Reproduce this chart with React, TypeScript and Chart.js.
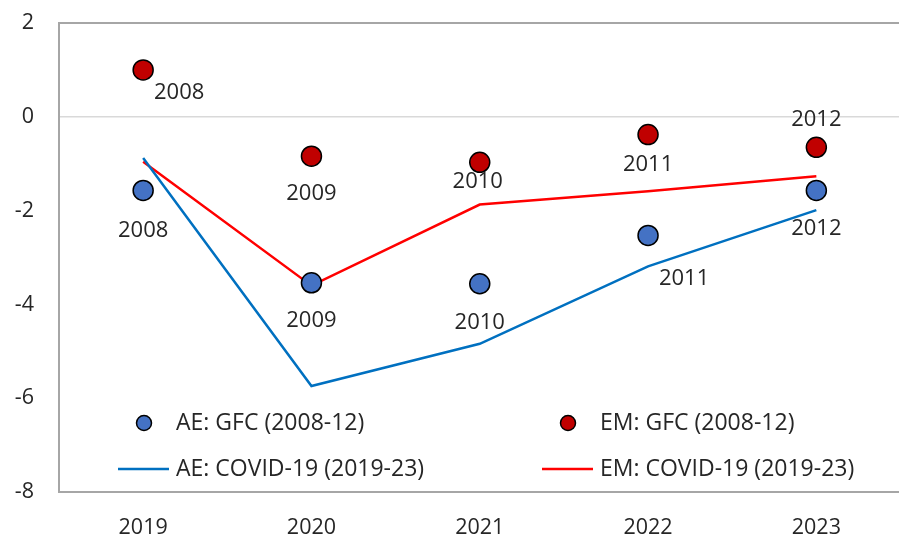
import React, { useEffect, useRef } from "react";
import { Chart, registerables } from "chart.js";

Chart.register(...registerables);

// ---- Data ----
const years = ["2019", "2020", "2021", "2022", "2023"];
const gfcYears = ["2008", "2009", "2010", "2011", "2012"];
const aeGfc = [-1.57, -3.54, -3.56, -2.53, -1.57];
const emGfc = [1.0, -0.84, -0.97, -0.38, -0.65];
const aeCovid = [-0.88, -5.74, -4.84, -3.19, -1.99];
const emCovid = [-0.96, -3.6, -1.87, -1.59, -1.27];
const yMin = -8;
const yMax = 2;
const yStep = 2;
const legendLabels = [
  "AE: GFC (2008-12)",
  "EM: GFC (2008-12)",
  "AE: COVID-19 (2019-23)",
  "EM: COVID-19 (2019-23)",
];

// ---- Styles ----
const FONT = "'Open Sans', 'Noto Sans', sans-serif";
const TICK_SIZE = 21.5;
const LABEL_SIZE = 22;
const LEGEND_SIZE = 23;
const TEXT_COLOR = "#262626";
const AXIS_COLOR = "#a6a6a6";
const AE_DOT = "#4472C4";
const EM_DOT = "#C00000";
const AE_LINE = "#0070C0";
const EM_LINE = "#FF0000";
// label offsets (dx, dy) in px relative to each dot
const aeLabelOffset: [number, number][] = [
  [0, 40],
  [0, 38],
  [0, 39],
  [36, 43],
  [0, 38],
];
const emLabelOffset: [number, number][] = [
  [36, 23],
  [0, 38],
  [-2, 19],
  [0, 30],
  [0, -28],
];

const labelPlugin = {
  id: "gfcLabels",
  afterDatasetsDraw(chart: any) {
    const ctx = chart.ctx;
    ctx.save();
    ctx.font = `${LABEL_SIZE}px ${FONT}`;
    ctx.fillStyle = TEXT_COLOR;
    ctx.textAlign = "center";
    ctx.textBaseline = "middle";
    const sets: [number, [number, number][]][] = [
      [0, aeLabelOffset],
      [1, emLabelOffset],
    ];
    sets.forEach(([idx, offs]) => {
      const meta = chart.getDatasetMeta(idx);
      meta.data.forEach((pt: any, i: number) => {
        ctx.fillText(gfcYears[i], pt.x + offs[i][0], pt.y + offs[i][1]);
      });
    });
    ctx.restore();
  },
};

const legendPlugin = {
  id: "customLegend",
  afterDraw(chart: any) {
    const ctx = chart.ctx;
    const area = chart.chartArea;
    const row1 = area.bottom - 69;
    const row2 = area.bottom - 23;
    const col1 = area.left + 85;
    const col2 = area.left + 509;
    const textGap = 32;
    ctx.save();
    ctx.font = `${LEGEND_SIZE}px ${FONT}`;
    ctx.textAlign = "left";
    ctx.textBaseline = "middle";
    const dot = (x: number, y: number, fill: string) => {
      ctx.beginPath();
      ctx.arc(x, y, 7.5, 0, Math.PI * 2);
      ctx.fillStyle = fill;
      ctx.fill();
      ctx.lineWidth = 1.5;
      ctx.strokeStyle = "#000";
      ctx.stroke();
    };
    const line = (x: number, y: number, color: string) => {
      ctx.beginPath();
      ctx.moveTo(x - 26, y);
      ctx.lineTo(x + 25, y);
      ctx.lineWidth = 2.5;
      ctx.strokeStyle = color;
      ctx.stroke();
    };
    dot(col1, row1, AE_DOT);
    dot(col2, row1, EM_DOT);
    line(col1, row2, AE_LINE);
    line(col2, row2, EM_LINE);
    ctx.fillStyle = TEXT_COLOR;
    ctx.fillText(legendLabels[0], col1 + textGap, row1);
    ctx.fillText(legendLabels[1], col2 + textGap, row1);
    ctx.fillText(legendLabels[2], col1 + textGap, row2);
    ctx.fillText(legendLabels[3], col2 + textGap, row2);
    ctx.restore();
  },
};

export default function App() {
  const ref = useRef<HTMLCanvasElement | null>(null);

  useEffect(() => {
    if (!ref.current) return;
    const chart = new Chart(ref.current, {
      type: "line",
      data: {
        labels: years,
        datasets: [
          {
            label: legendLabels[0],
            data: aeGfc,
            showLine: false,
            pointRadius: 10,
            pointBackgroundColor: AE_DOT,
            pointBorderColor: "#000",
            pointBorderWidth: 1.5,
            borderColor: AE_DOT,
            backgroundColor: AE_DOT,
          },
          {
            label: legendLabels[1],
            data: emGfc,
            showLine: false,
            pointRadius: 10,
            pointBackgroundColor: EM_DOT,
            pointBorderColor: "#000",
            pointBorderWidth: 1.5,
            borderColor: EM_DOT,
            backgroundColor: EM_DOT,
          },
          {
            label: legendLabels[2],
            data: aeCovid,
            borderColor: AE_LINE,
            borderWidth: 2.5,
            pointRadius: 0,
            tension: 0,
            fill: false,
          },
          {
            label: legendLabels[3],
            data: emCovid,
            borderColor: EM_LINE,
            borderWidth: 2.5,
            pointRadius: 0,
            tension: 0,
            fill: false,
          },
        ],
      },
      options: {
        responsive: false,
        maintainAspectRatio: false,
        animation: false,
        layout: { padding: { top: 23, right: 0, bottom: 0, left: 0 } },
        plugins: {
          legend: { display: false },
          tooltip: { enabled: false },
        },
        scales: {
          x: {
            offset: true,
            grid: { display: false, drawTicks: false },
            border: { display: true, color: AXIS_COLOR, width: 2 },
            ticks: {
              color: TEXT_COLOR,
              font: { family: FONT, size: TICK_SIZE },
              padding: 23,
              maxRotation: 0,
            },
            afterFit: (scale: any) => {
              scale.height = 45;
              scale.paddingLeft = 0;
              scale.paddingRight = 0;
            },
          },
          y: {
            min: yMin,
            max: yMax,
            grid: {
              drawTicks: false,
              color: (c: any) =>
                c.tick && c.tick.value === yMax
                  ? AXIS_COLOR
                  : c.tick && c.tick.value === 0
                  ? "#d9d9d9"
                  : "rgba(0,0,0,0)",
              lineWidth: (c: any) =>
                c.tick && c.tick.value === yMax ? 2 : 1.5,
            },
            border: { display: true, color: AXIS_COLOR, width: 2 },
            ticks: {
              stepSize: yStep,
              color: TEXT_COLOR,
              font: { family: FONT, size: TICK_SIZE },
              padding: 25,
            },
            afterFit: (scale: any) => {
              scale.width = 59;
              scale.paddingTop = 0;
              scale.paddingBottom = 0;
            },
          },
        },
      },
      plugins: [labelPlugin, legendPlugin],
    });
    return () => chart.destroy();
  }, []);

  return (
    <div
      style={{
        position: "fixed",
        left: 0,
        top: 0,
        width: 899,
        height: 537,
        overflow: "hidden",
        background: "#fff",
      }}
    >
      <canvas
        ref={ref}
        width={912}
        height={537}
        style={{ width: 912, height: 537, display: "block" }}
      />
    </div>
  );
}
